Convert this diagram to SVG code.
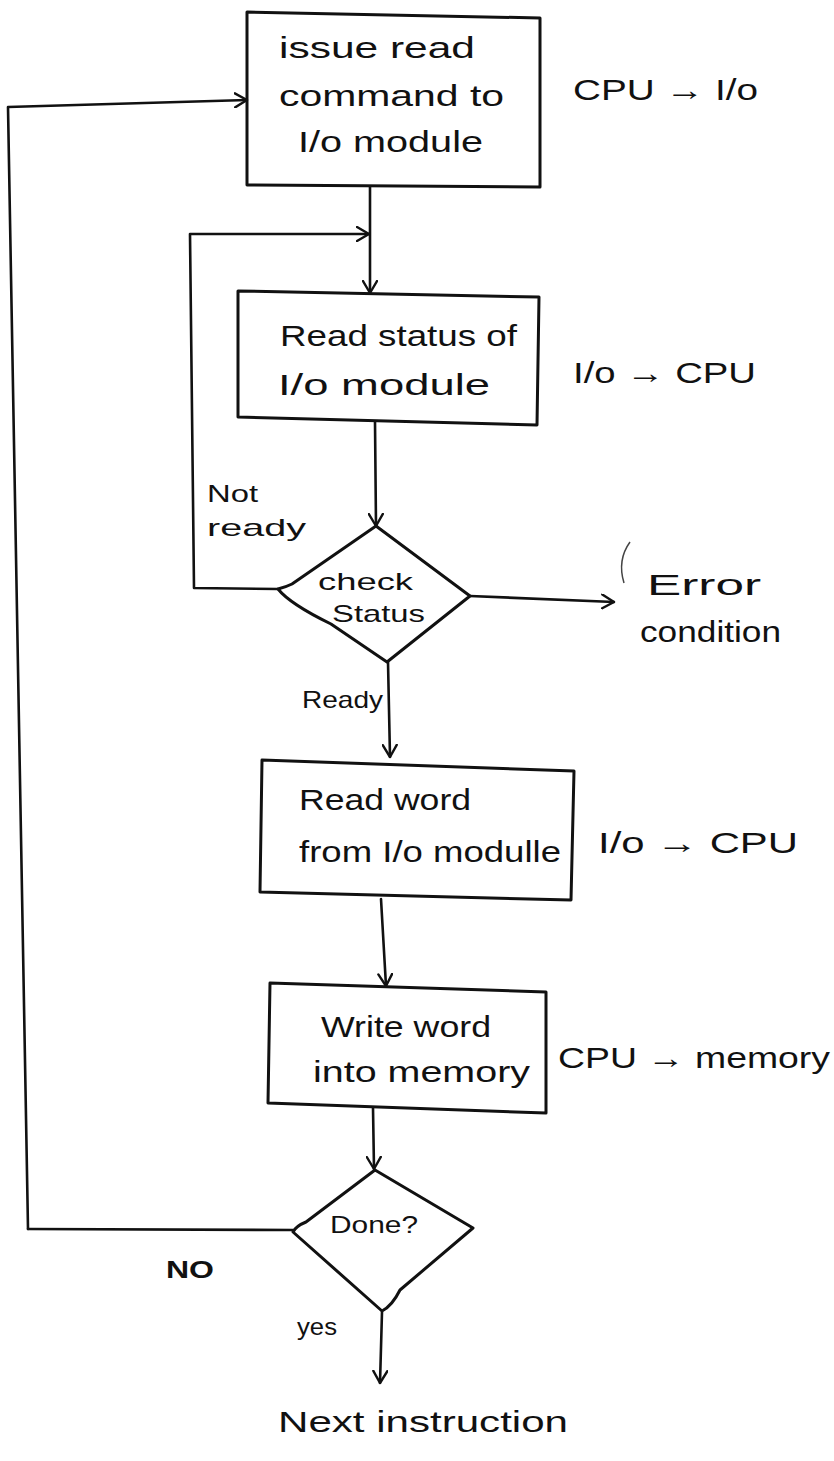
<svg xmlns="http://www.w3.org/2000/svg" width="834" height="1461" viewBox="0 0 834 1461">
<defs>
<style>
.shape{fill:none;stroke:#111;stroke-width:3;stroke-linejoin:round;stroke-linecap:round}
.conn{fill:none;stroke:#111;stroke-width:2.6;stroke-linecap:round;stroke-linejoin:round}
.t{font-family:"Liberation Sans","DejaVu Sans",sans-serif;fill:#111;font-size:30px}
.s{font-size:24px}
</style>
<marker id="ah" viewBox="0 0 14 16" refX="13" refY="8" markerWidth="14" markerHeight="16" markerUnits="userSpaceOnUse" orient="auto">
<path d="M1,1 L13,8 L1,15" fill="none" stroke="#111" stroke-width="2.4" stroke-linecap="round" stroke-linejoin="round"/>
</marker>
</defs>
<rect width="834" height="1461" fill="#fff"/>

<g id="connectors">
<path class="conn" d="M28,1229 L293,1230" />
<path class="conn" d="M28,1229 L8,107 L247,100" marker-end="url(#ah)"/>
<path class="conn" d="M370,187 L370,293" marker-end="url(#ah)"/>
<path class="conn" d="M278,589 L194,588 L190,234 L369,234" marker-end="url(#ah)"/>
<path class="conn" d="M375,422 L376,526" marker-end="url(#ah)"/>
<path class="conn" d="M470,596 L614,602" marker-end="url(#ah)"/>
<path class="conn" d="M388,662 L390,757" marker-end="url(#ah)"/>
<path class="conn" d="M381,899 L386,986" marker-end="url(#ah)"/>
<path class="conn" d="M373,1108 L374,1169" marker-end="url(#ah)"/>
<path class="conn" d="M382,1312 L380,1383" marker-end="url(#ah)"/>
<path d="M630,542 Q617,560 624,583" fill="none" stroke="#444" stroke-width="1.5"/>
</g>

<g id="n1">
<path class="shape" d="M247,12 L540,18 L540,187 L247,185 Z"/>
<text class="t" x="279" y="58" textLength="196" lengthAdjust="spacingAndGlyphs">issue read</text>
<text class="t" x="279" y="106" textLength="225" lengthAdjust="spacingAndGlyphs">command to</text>
<text class="t" x="298" y="152" textLength="185" lengthAdjust="spacingAndGlyphs">I/o module</text>
</g>
<text id="l1" class="t" x="573" y="100" textLength="185" lengthAdjust="spacingAndGlyphs">CPU → I/o</text>

<g id="n2">
<path class="shape" d="M238,291 L539,297 L537,425 L238,417 Z"/>
<text class="t" x="280" y="346" textLength="237" lengthAdjust="spacingAndGlyphs">Read status of</text>
<text class="t" x="278" y="395" font-size="32" textLength="212" lengthAdjust="spacingAndGlyphs">I/o module</text>
</g>
<text id="l2" class="t" x="573" y="383" textLength="183" lengthAdjust="spacingAndGlyphs">I/o → CPU</text>

<g id="n3">
<path class="shape" d="M376,526 L470,596 L387,662 L331,624 Q290,604 278,589 Q286,587 292,584 Z"/>
<text class="t s" x="318" y="590" textLength="95" lengthAdjust="spacingAndGlyphs">check</text>
<text class="t s" x="332" y="622" textLength="93" lengthAdjust="spacingAndGlyphs">Status</text>
</g>
<text class="t s" x="207" y="502" textLength="51" lengthAdjust="spacingAndGlyphs">Not</text>
<text class="t s" x="207" y="536" textLength="99" lengthAdjust="spacingAndGlyphs">ready</text>
<text class="t s" x="302" y="708" textLength="81" lengthAdjust="spacingAndGlyphs">Ready</text>
<g id="n4">
<text class="t" x="647" y="595" textLength="114" lengthAdjust="spacingAndGlyphs">Error</text>
<text class="t" x="640" y="642" textLength="141" lengthAdjust="spacingAndGlyphs">condition</text>
</g>

<g id="n5">
<path class="shape" d="M262,760 L574,771 L571,900 L260,892 Z"/>
<text class="t" x="299" y="810" textLength="172" lengthAdjust="spacingAndGlyphs">Read word</text>
<text class="t" x="299" y="862" textLength="262" lengthAdjust="spacingAndGlyphs">from I/o modulle</text>
</g>
<text id="l3" class="t" x="598" y="853" textLength="200" lengthAdjust="spacingAndGlyphs">I/o → CPU</text>

<g id="n6">
<path class="shape" d="M270,983 L546,992 L546,1113 L268,1103 Z"/>
<text class="t" x="321" y="1037" textLength="170" lengthAdjust="spacingAndGlyphs">Write word</text>
<text class="t" x="313" y="1082" textLength="217" lengthAdjust="spacingAndGlyphs">into memory</text>
</g>
<text id="l4" class="t" x="558" y="1068" textLength="272" lengthAdjust="spacingAndGlyphs">CPU → memory</text>

<g id="n7">
<path class="shape" d="M375,1170 L473,1228 L400,1290 Q392,1306 382,1311 L293,1232 Q296,1226 306,1222 Z"/>
<text class="t s" x="330" y="1233" textLength="88" lengthAdjust="spacingAndGlyphs">Done?</text>
</g>
<text class="t s" x="166" y="1278" textLength="48" lengthAdjust="spacingAndGlyphs" font-weight="bold">NO</text>
<text class="t s" x="297" y="1335" textLength="40" lengthAdjust="spacingAndGlyphs">yes</text>

<g id="n8">
<text class="t" x="278" y="1432" textLength="290" lengthAdjust="spacingAndGlyphs">Next instruction</text>
</g>
</svg>
